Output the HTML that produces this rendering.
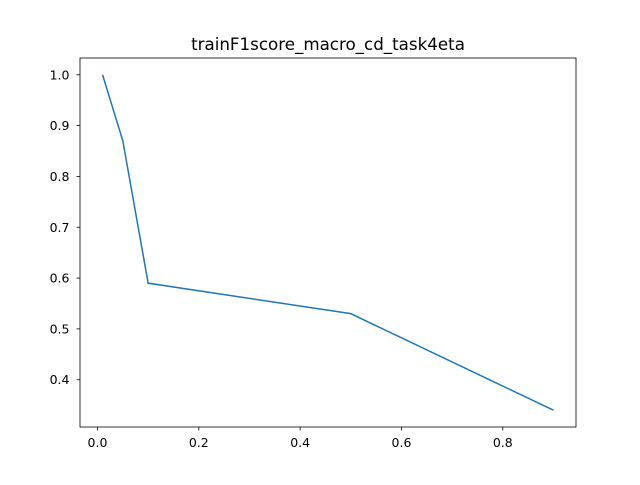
<!DOCTYPE html>
<html><head><meta charset="utf-8"><style>
body{margin:0;background:#fff;}
svg text{font-family:"DejaVu Sans","Liberation Sans",sans-serif;fill:#000;}
</style></head><body>
<svg id="chart" width="640" height="480">
<rect width="640" height="480" fill="#fff"/>
<text x="328" y="50" font-size="16.7" text-anchor="middle">trainF1score_macro_cd_task4eta</text>
<g id="axes"></g>
</svg>
<script>
const xValues=[0.01,0.05,0.1,0.5,0.9];
const yValues=[1.0,0.87,0.59,0.53,0.34];
const xTicks=[0.0,0.2,0.4,0.6,0.8];
const xTickLabels=["0.0","0.2","0.4","0.6","0.8"];
const yTicks=[0.4,0.5,0.6,0.7,0.8,0.9,1.0];
const yTickLabels=["0.4","0.5","0.6","0.7","0.8","0.9","1.0"];
const L=80,R=576,T=58,B=427;
const xmn=Math.min(...xValues),xmx=Math.max(...xValues),xm=(xmx-xmn)*0.05;
const ymn=Math.min(...yValues),ymx=Math.max(...yValues),ym=(ymx-ymn)*0.05;
const sx=v=>L+(v-(xmn-xm))/((xmx+xm)-(xmn-xm))*(R-L);
const sy=v=>B-(v-(ymn-ym))/((ymx+ym)-(ymn-ym))*(B-T);
const NS="http://www.w3.org/2000/svg";
const g=document.getElementById('axes');
function mk(t,a){const e=document.createElementNS(NS,t);for(const k in a)e.setAttribute(k,a[k]);g.appendChild(e);return e;}
xTicks.forEach((v,i)=>{const x=sx(v);
const t=mk('line',{x1:x,x2:x,y1:B,y2:B+3.5,stroke:'#000','stroke-width':0.8});


const l=mk('text',{x:x,y:B+20,'font-size':12.5,'text-anchor':'middle'});l.textContent=xTickLabels[i];

});
yTicks.forEach((v,i)=>{const y=sy(v);
const t=mk('line',{x1:L-3.5,x2:L,y1:y,y2:y,stroke:'#000','stroke-width':0.8});


const l=mk('text',{x:L-10.5,y:y+4.5,'font-size':12.5,'text-anchor':'end'});l.textContent=yTickLabels[i];

});
const p=mk('polyline',{points:xValues.map((x,i)=>sx(x)+','+sy(yValues[i])).join(' '),fill:'none',stroke:'#1f77b4','stroke-width':1.5});


const f=mk('rect',{x:L,y:T,width:R-L,height:B-T,fill:'none',stroke:'#000','stroke-width':0.8});


</script>
</body></html>
